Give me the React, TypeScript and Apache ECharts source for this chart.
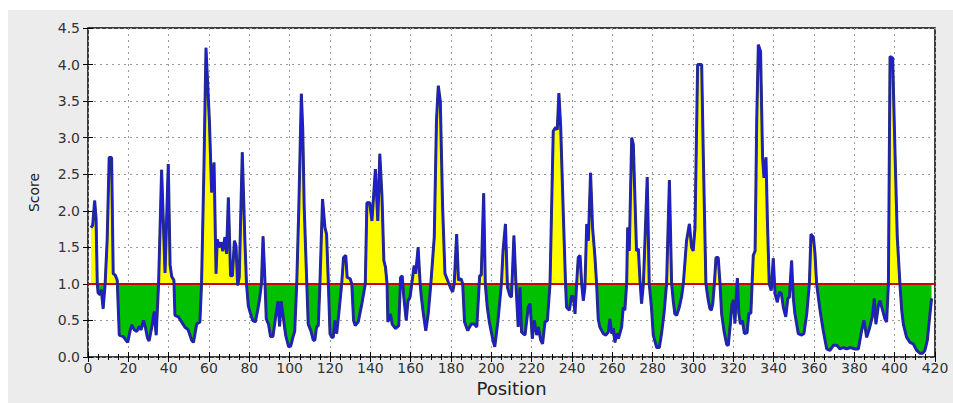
import React, { useEffect, useRef } from "react";
import * as echarts from "echarts";

// Residue positions and epitope scores
const positions = [
  1.5, 2.3, 3.3, 4, 4.6, 5, 6, 6.6, 7.5, 8.5, 9.5, 10.5, 11.7, 12.5, 13.5, 14.5, 15.5, 17.5, 18.8, 19.7,
  20.8, 21.7, 23, 24.2, 25.5, 26.3, 27.5, 28.5, 29.5, 30.3, 31.7, 32.8, 33.8, 35, 36.5, 38.2, 39.8, 40.7, 41.5, 42.6,
  43.1, 44.8, 46.4, 48, 49.7, 51.4, 52.3, 53.9, 55.5, 56.3, 57.5, 58.5, 60.2, 61.3, 62.5, 63.5, 64.1, 65.1, 66, 66.8,
  67.9, 68.7, 69.6, 70.7, 71.6, 72.6, 73.4, 74.2, 75, 76.5, 77.8, 78.6, 79.5, 80.5, 81.7, 83, 84, 85, 86, 86.8,
  87.8, 88.4, 89.5, 90.5, 91.7, 93.3, 94.2, 95, 95.8, 96.8, 98, 99.5, 100.5, 101.7, 102.5, 103.5, 104.5, 105.8, 106.5, 107.2,
  108, 108.5, 109.2, 110.5, 111.7, 112.5, 113.3, 114.2, 115, 116.3, 117.5, 118.3, 119.2, 120, 120.8, 121.6, 122.4, 123.3, 124.2, 125.8,
  126.7, 127.8, 128.5, 130, 130.8, 131.7, 132.5, 134, 135.8, 137.5, 138.3, 139.7, 140.8, 142.5, 143.7, 144.7, 145.8, 146.7, 147.5, 148.3,
  148.7, 150, 150.8, 152.5, 154.1, 155, 155.8, 156.6, 157.8, 158.7, 159.7, 160.8, 161.7, 162.5, 163.7, 164.7, 165.3, 166.3, 167.5, 168.7,
  170, 171.7, 172.8, 173.7, 174.7, 175.8, 177, 178.3, 179.7, 180.8, 181.6, 182.8, 183.7, 185, 185.8, 186.7, 188.3, 190, 191.5, 192.8,
  194.2, 195, 196.2, 197, 198, 199, 200.8, 201.7, 203.3, 205, 205.8, 207, 208, 209.2, 210, 211.2, 212.2, 213.3, 214.2, 215,
  216.7, 218.3, 219.2, 220.3, 221.3, 222.5, 223.3, 224.5, 225.4, 226.6, 227.8, 229.1, 230.7, 231.9, 232.7, 233.5, 234.4, 235.7, 236.8, 237.3,
  238.7, 239.8, 240.7, 241.5, 242.3, 243.1, 244, 244.8, 245.6, 246.4, 247.3, 248.1, 249.2, 250.2, 251.4, 252.2, 253, 253.8, 255.5, 256.8,
  258, 258.8, 259.7, 260.5, 261.3, 262.1, 263, 264.6, 265.4, 266.2, 267.1, 267.6, 268.4, 269.6, 270.4, 271.2, 272, 272.9, 273.7, 274.5,
  275.4, 276.3, 277.3, 278.3, 279.4, 280.3, 282, 283.3, 284.4, 285.6, 286.9, 288.3, 289.4, 290.2, 291, 291.9, 293.2, 294.3, 295.2, 296.8,
  298.2, 299.3, 300.1, 301, 302.3, 304.3, 305.1, 306.4, 307.6, 308.4, 309.1, 309.8, 310.6, 311.4, 312.5, 313.4, 314.2, 315.4, 316.7, 317.5,
  318.5, 319.3, 320, 320.8, 321.4, 322, 322.7, 323.5, 324.5, 325.5, 326.8, 327.7, 328.7, 329.3, 329.9, 330.8, 331.6, 332.4, 333.5, 334.5,
  335.2, 336.2, 336.9, 337.8, 338.8, 339.8, 340.7, 341.8, 342.8, 343.8, 344.8, 346, 347, 347.8, 348.9, 349.7, 350.5, 352.2, 353.9, 355,
  356.4, 357.7, 358.5, 359.7, 360.5, 361.3, 363, 364.6, 366.3, 367.9, 369.6, 371.3, 372.9, 374.5, 376.2, 378, 380.3, 382, 383.6, 384.8,
  386.1, 387.5, 388.9, 389.9, 390.7, 391.9, 392.7, 394, 395.2, 396, 396.9, 397.7, 399, 400.2, 401.3, 402.6, 403.5, 404.3, 405.9, 407.6,
  409.2, 410.9, 412.6, 413.9, 415, 416.2, 417.5, 418.3,
];

const scores = [
  1.77, 1.8, 2.14, 1.9, 1.0, 0.88, 0.85, 0.92, 0.66, 1.0, 1.6, 2.73, 2.73, 1.14, 1.12, 1.05, 0.3, 0.28, 0.23, 0.2,
  0.35, 0.44, 0.37, 0.35, 0.42, 0.37, 0.5, 0.4, 0.26, 0.22, 0.42, 0.62, 0.3, 1.0, 2.56, 1.15, 2.64, 1.26, 1.1, 1.05,
  0.57, 0.55, 0.48, 0.41, 0.37, 0.23, 0.2, 0.45, 0.48, 1.0, 2.6, 4.23, 3.23, 2.25, 2.66, 1.14, 1.61, 1.5, 1.57, 1.45,
  1.64, 1.41, 2.18, 1.11, 1.11, 1.59, 1.52, 0.98, 1.09, 2.8, 1.59, 1.0, 0.7, 0.6, 0.5, 0.48, 0.62, 0.78, 1.0, 1.65,
  1.0, 0.52, 0.45, 0.28, 0.28, 0.6, 0.76, 0.42, 0.76, 0.55, 0.3, 0.14, 0.15, 0.28, 0.35, 1.0, 2.0, 3.6, 3.1, 2.05,
  1.4, 1.0, 0.45, 0.36, 0.23, 0.23, 0.41, 0.43, 1.0, 2.16, 1.77, 1.68, 1.0, 0.32, 0.27, 0.27, 0.5, 0.32, 0.55, 1.0,
  1.36, 1.39, 1.09, 1.07, 1.0, 0.5, 0.43, 0.48, 0.73, 1.0, 2.11, 2.11, 1.86, 2.57, 1.86, 2.78, 2.18, 1.32, 1.23, 1.0,
  0.48, 0.59, 0.45, 0.39, 0.43, 1.09, 1.11, 0.82, 0.5, 0.77, 0.82, 1.05, 1.25, 1.14, 1.5, 1.0, 0.82, 0.59, 0.36, 0.59,
  1.0, 1.64, 3.23, 3.71, 3.5, 2.09, 1.14, 1.05, 0.95, 0.89, 1.0, 1.68, 1.05, 1.07, 1.0, 0.48, 0.36, 0.45, 0.45, 0.41,
  1.11, 1.12, 2.24, 1.0, 0.68, 0.48, 0.23, 0.14, 0.5, 1.0, 1.45, 1.82, 0.95, 0.84, 0.82, 1.66, 1.0, 0.41, 0.95, 0.34,
  0.3, 0.68, 0.73, 0.25, 0.5, 0.3, 0.41, 0.23, 0.18, 0.48, 0.5, 1.0, 3.09, 3.14, 3.11, 3.61, 3.14, 1.95, 1.0, 0.68,
  0.64, 0.84, 0.82, 0.59, 1.0, 1.36, 1.39, 1.0, 0.77, 0.95, 1.82, 1.59, 2.52, 1.77, 1.36, 1.0, 0.52, 0.41, 0.32, 0.3,
  0.34, 0.52, 0.32, 0.39, 0.2, 0.32, 0.25, 0.41, 0.68, 0.64, 1.0, 1.77, 1.45, 3.0, 2.91, 2.18, 1.45, 1.48, 1.05, 0.73,
  1.0, 1.68, 2.46, 1.0, 0.68, 0.3, 0.13, 0.13, 0.32, 0.59, 1.0, 2.42, 1.0, 0.77, 0.59, 0.57, 0.68, 0.82, 1.0, 1.59,
  1.82, 1.5, 1.45, 1.77, 4.0, 4.0, 2.77, 1.0, 0.77, 0.66, 0.64, 0.73, 1.0, 1.36, 1.36, 1.0, 0.59, 0.35, 0.17, 0.16,
  0.45, 0.72, 0.78, 0.46, 0.82, 1.08, 0.6, 0.45, 0.5, 0.32, 0.33, 0.6, 0.6, 1.0, 1.39, 1.45, 3.23, 4.27, 4.18, 2.73,
  2.45, 2.73, 1.86, 1.0, 0.91, 1.35, 0.86, 0.75, 0.89, 0.87, 0.68, 0.55, 0.8, 0.82, 1.32, 0.82, 0.6, 0.32, 0.3, 0.32,
  0.59, 1.0, 1.68, 1.64, 1.41, 1.0, 0.64, 0.36, 0.11, 0.09, 0.16, 0.16, 0.11, 0.13, 0.11, 0.13, 0.11, 0.11, 0.36, 0.5,
  0.27, 0.39, 0.55, 0.8, 0.45, 0.7, 0.77, 0.64, 0.52, 0.48, 1.0, 4.11, 4.09, 2.77, 1.64, 1.0, 0.64, 0.45, 0.27, 0.2,
  0.18, 0.09, 0.05, 0.05, 0.09, 0.23, 0.59, 0.8,
];

const threshold = 1.0;
const xRange = [0, 420];
const xStep = 20;
const yRange = [0, 4.5];
const yStep = 0.5;

export default function App() {
  const ref = useRef<HTMLDivElement>(null);

  useEffect(() => {
    if (!ref.current) return;
    const chart = echarts.init(ref.current, null, { renderer: "svg" });
    const data = positions.map((p, i) => [p, scores[i]]);
    const font = "DejaVu Sans";
    const tickStyle = { color: "#000", width: 1 };

    chart.setOption({
      animation: false,
      backgroundColor: "#ececec",
      grid: {
        left: 80,
        top: 18,
        right: 18,
        bottom: 46,
        show: true,
        backgroundColor: "#ffffff",
        borderColor: "#000000",
        borderWidth: 1.5,
      },
      visualMap: {
        type: "piecewise",
        show: false,
        seriesIndex: 0,
        dimension: 1,
        pieces: [
          { gte: -10, lt: threshold, color: "#00c000" },
          { gte: threshold, lte: 10, color: "#ffff00" },
        ],
      },
      xAxis: [
        {
          type: "value",
          position: "bottom",
          min: xRange[0],
          max: xRange[1],
          interval: xStep,
          name: "Position",
          nameLocation: "middle",
          nameGap: 19,
          nameTextStyle: { fontFamily: font, fontSize: 18, color: "#222" },
          axisLine: { show: false },
          axisTick: { show: true, inside: true, length: 5, lineStyle: tickStyle },
          minorTick: { show: true, splitNumber: 4, length: 3, lineStyle: tickStyle },
          axisLabel: { fontFamily: font, fontSize: 14, color: "#333", margin: 4 },
          splitLine: { show: true, lineStyle: { color: "#999", width: 1, type: [2, 4] } },
        },
        {
          type: "value",
          position: "top",
          min: xRange[0],
          max: xRange[1],
          interval: xStep,
          axisLine: { show: false },
          axisTick: { show: true, inside: true, length: 5, lineStyle: tickStyle },
          minorTick: { show: true, splitNumber: 4, length: 3, lineStyle: tickStyle },
          axisLabel: { show: false },
          splitLine: { show: false },
        },
      ],
      yAxis: [
        {
          type: "value",
          position: "left",
          min: yRange[0],
          max: yRange[1],
          interval: yStep,
          name: "Score",
          nameLocation: "middle",
          nameGap: 47,
          nameTextStyle: { fontFamily: font, fontSize: 14, color: "#222" },
          axisLine: { show: false },
          axisTick: { show: true, inside: true, length: 5, lineStyle: tickStyle },
          axisLabel: {
            fontFamily: font,
            fontSize: 14,
            color: "#333",
            margin: 8,
            formatter: (v: number) => v.toFixed(1),
          },
          splitLine: { show: true, lineStyle: { color: "#999", width: 1, type: [2, 4] } },
        },
        {
          type: "value",
          position: "right",
          min: yRange[0],
          max: yRange[1],
          interval: yStep,
          axisLine: { show: false },
          axisTick: { show: true, inside: true, length: 5, lineStyle: tickStyle },
          axisLabel: { show: false },
          splitLine: { show: false },
        },
      ],
      series: [
        {
          type: "line",
          data,
          xAxisIndex: 0,
          yAxisIndex: 0,
          symbol: "none",
          showSymbol: false,
          silent: true,
          lineStyle: { width: 0, opacity: 0 },
          areaStyle: { origin: threshold, opacity: 1 },
          z: 2,
        },
        {
          type: "line",
          data,
          xAxisIndex: 0,
          yAxisIndex: 0,
          symbol: "none",
          showSymbol: false,
          silent: true,
          lineStyle: { color: "#2a3560", width: 3 },
          z: 4,
          markLine: {
            silent: true,
            symbol: "none",
            label: { show: false },
            lineStyle: { color: "#d00000", width: 2, type: "solid" },
            data: [{ yAxis: threshold }],
            z: 3,
          },
        },
        {
          type: "line",
          data,
          xAxisIndex: 0,
          yAxisIndex: 0,
          symbol: "none",
          showSymbol: false,
          silent: true,
          lineStyle: { color: "#1e1ed0", width: 1.8 },
          z: 5,
        },
      ],
    });

    return () => chart.dispose();
  }, []);

  return (
    <div
      ref={ref}
      style={{ position: "absolute", left: 8, top: 10, width: 945, height: 393 }}
    />
  );
}
